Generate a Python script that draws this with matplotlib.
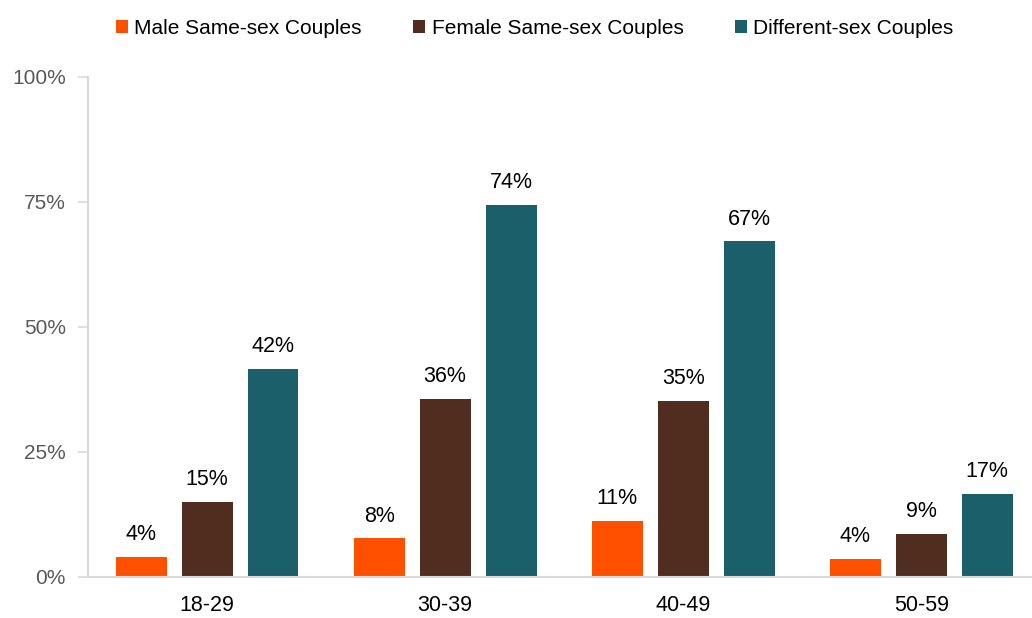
import matplotlib.pyplot as plt
import numpy as np

plt.rcParams['font.family'] = ['Liberation Sans', 'DejaVu Sans']

# data (percent)
age_groups = ['18-29', '30-39', '40-49', '50-59']
series_names = ['Male Same-sex Couples', 'Female Same-sex Couples', 'Different-sex Couples']
male_same = [4.0, 7.8, 11.3, 3.6]
female_same = [15.1, 35.6, 35.2, 8.7]
different = [41.6, 74.4, 67.1, 16.6]
colors = ['#FF5000', '#512D20', '#1B5F6A']

fig = plt.figure(figsize=(10.32, 6.18), dpi=100)
ax = fig.add_axes([88 / 1032, 1 - 577 / 618, (1032 - 88) / 1032, 500 / 618])

x = np.arange(len(age_groups))
step = 0.277
width = 0.214
for i, (vals, name, col) in enumerate(zip([male_same, female_same, different], series_names, colors)):
    pos = x + (i - 1) * step
    bars = ax.bar(pos, vals, width, color=col, label=name, zorder=2)
    for b, v in zip(bars, vals):
        ax.text(b.get_x() + b.get_width() / 2, v + 2.3, f'{v:.0f}%', ha='center', va='bottom',
                fontsize=15.5, color='#000000')

ax.set_xlim(-0.5, 3.465)
ax.set_ylim(0, 100)
ax.set_yticks([0, 25, 50, 75, 100])
ax.set_yticklabels([f'{t}%' for t in [0, 25, 50, 75, 100]])
ax.set_xticks(x)
ax.set_xticklabels(age_groups)

for s in ['top', 'right']:
    ax.spines[s].set_visible(False)
for s in ['left', 'bottom']:
    ax.spines[s].set_color('#D9D9D9')
    ax.spines[s].set_linewidth(1.5)
ax.tick_params(axis='y', colors='#595959', labelsize=15, length=7, width=1.2, color='#D9D9D9', pad=9)
ax.tick_params(axis='x', length=0, labelsize=15.5, labelcolor='#000000', pad=13)
for lbl in ax.get_yticklabels():
    lbl.set_color('#595959')

fig.legend(loc='upper center', bbox_to_anchor=(0.518, 1.0), ncol=3, frameon=False,
           prop={'size': 15}, handlelength=0.6, handleheight=0.6, handletextpad=0.3,
           columnspacing=2.45)

fig.savefig('out.png', dpi=100)
